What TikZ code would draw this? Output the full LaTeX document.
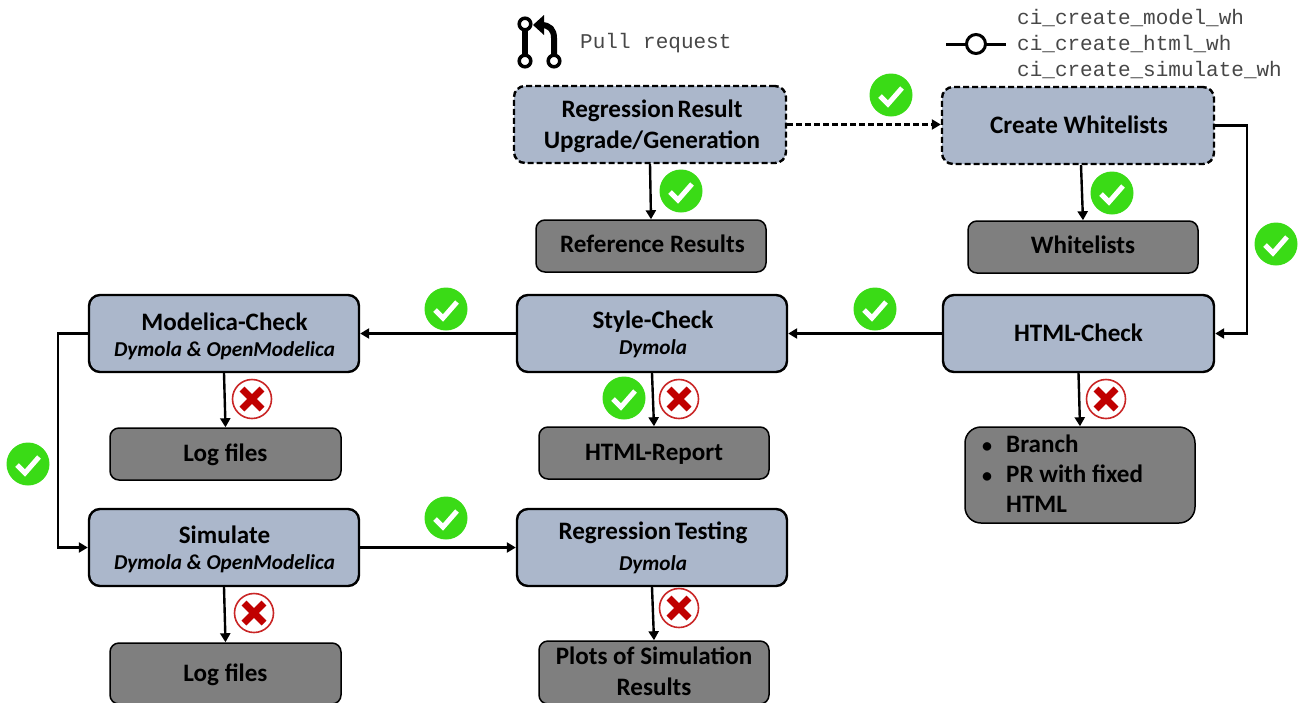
\documentclass[tikz,border=0pt]{standalone}
\usepackage{fontspec}
\setmainfont{Carlito}
\newfontfamily\monof{Liberation Mono}
\usetikzlibrary{arrows.meta}
\definecolor{boxblue}{HTML}{ABB7CB}
\definecolor{boxgray}{HTML}{7F7F7F}
\definecolor{okgreen}{HTML}{3ADB16}
\definecolor{failred}{HTML}{C00000}
\newcommand{\bigfs}{\fontsize{25.1}{31}\selectfont\bfseries}
\newcommand{\subfs}{\fontsize{21.2}{28}\selectfont\bfseries\itshape}
\newcommand{\bul}{\makebox[24pt][l]{\fontsize{20}{20}\selectfont •}}
\begin{document}
\begin{tikzpicture}[x=1pt,y=-1pt,
  base/.style={rounded corners=11pt,draw=black,line width=2.4pt,inner sep=0pt,anchor=center},
  blue/.style={base,fill=boxblue},
  dashbox/.style={dash pattern=on 6pt off 3pt},
  gray/.style={base,fill=boxgray,line width=1.5pt,rounded corners=9pt},
  boxtext/.style={align=center,font=\bigfs,inner sep=0pt,anchor=center},
  flow/.style={line width=2.4pt,-{Triangle[length=9pt,width=10pt]}},
  monot/.style={font=\monof\fontsize{21}{26}\selectfont,text=black!72,anchor=west,inner sep=0pt},
  okc/.style={circle,fill=okgreen,minimum size=43pt,inner sep=0pt},
  failc/.style={circle,fill=white,draw=failred!85,line width=1.6pt,minimum size=39pt,inner sep=0pt},
  okmark/.pic={\draw[white,line width=5pt] (-11,1) -- (-3,9) -- (11,-7);},
  failmark/.pic={\draw[failred,line width=7pt] (-10,-10) -- (10,10) (-10,10) -- (10,-10);},
]
\useasboundingbox (0,0) rectangle (1301,702);
% style, name, text, x0, x1, y0, y1, text x offset, text y offset
\newcommand{\boxn}[9]{\node[#1,minimum width=#5pt-#4pt,minimum height=#7pt-#6pt] (#2) at ({(#4+#5)/2},{(#6+#7)/2}) {};
  \node[boxtext] (#2t) at ({(#4+#5)/2+#8},{(#6+#7)/2+#9}) {#3};}

% boxes
\boxn{blue,dashbox}{rr}{Regression\hspace{3.5pt}Result\\Upgrade/Generation}{514}{786}{86}{163}{2}{2}
\boxn{blue,dashbox}{cw}{Create Whitelists}{942}{1214}{87}{164}{1}{-1}
\boxn{gray}{ref}{Reference Results}{536}{766}{220}{272}{1.5}{-2}
\boxn{gray}{wl}{Whitelists}{968}{1198}{221}{273}{0}{-2}
\boxn{blue}{mc}{Modelica-Check\\[-5pt]{\subfs Dymola \& OpenModelica}}{89}{359}{295}{372}{0.5}{3}
\boxn{blue}{sc}{Style-Check\\[-5pt]{\subfs Dymola}}{517}{787}{295}{372}{1}{1}
\boxn{blue}{hc}{HTML-Check}{943}{1214}{295}{372}{0}{-1}
\boxn{gray}{lf}{Log files}{110}{341}{428}{480}{0}{0.5}
\boxn{gray}{hr}{HTML-Report}{539}{769}{427}{479}{0}{1}
\boxn{gray,rounded corners=16pt}{br}{}{965}{1195}{427}{523}{0}{0}
\node[font=\bigfs,align=left,inner sep=0pt,anchor=north west] (brt) at (982,435) {\bul Branch\\[-1pt]\bul PR with fixed\\[-1pt]\makebox[24pt][l]{}HTML};
\boxn{blue}{si}{Simulate\\[-5pt]{\subfs Dymola \& OpenModelica}}{89}{359}{509}{586}{0.5}{1.5}
\boxn{blue}{rt}{Regression\hspace{3.5pt}Testing\\{\subfs Dymola}}{517}{787}{509}{586}{1}{0}
\boxn{gray}{lf2}{Log files}{110}{341}{643}{704}{0}{1.5}
\boxn{gray}{pl}{Plots of Simulation\\Results}{539}{769}{641}{704}{0}{-1}

% connectors
\draw[flow,dashbox] (rr.east) -- (rr.east -| cw.west);
\draw[flow] (rr.south) -- (ref.north);
\draw[flow] ([xshift=3pt]cw.south) -- (wl.north);
\draw[flow] (cw.east) -- ++(32,0) |- (hc.east);
\draw[flow] (hc.west) -- (sc.east);
\draw[flow] (sc.west) -- (mc.east);
\draw[flow] (mc.west) -- ++(-30,0) |- (si.west);
\draw[flow] (si.east) -- (rt.west);
\draw[flow] (mc.south) -- (lf.north);
\draw[flow] (sc.south) -- (hr.north);
\draw[flow] (hc.south) -- (br.north);
\draw[flow] (si.south) -- (lf2.north);
\draw[flow] (rt.south) -- (pl.north);

% status icons
\foreach \n/\x/\y in {a/891/95,b/681/191,c/1112/193,d/1276/244,e/446/309,f/875/309,g/624/398,h/28/464,i/446/518}{
  \node[okc] (ok\n) at (\x,\y) {};
  \pic at (ok\n) {okmark};
}
\foreach \n/\x/\y in {a/252/399,b/679/399,c/1106/399,d/254/613,e/679/608}{
  \node[failc] (fail\n) at (\x,\y) {};
  \pic at (fail\n) {failmark};
}

% pull request icon
\draw[line width=6pt] (525,30) -- (525,55);
\draw[line width=6pt] (554,54) -- (554,38) .. controls (554,30) and (550,25) .. (541,25);
\fill (533,25) -- (544,15) -- (544,35) -- cycle;
\draw[line width=3.5pt,fill=white] (525,24) circle[radius=5.8pt] (525,61) circle[radius=5.8pt] (554,61) circle[radius=5.8pt];
\node[monot] (pr) at (580,43) {Pull request};

% whitelist icon
\draw[line width=3pt] (946,44) -- (1006,44);
\draw[line width=3pt,fill=white] (976,44) circle[radius=9.5pt];
\node[monot] (w1) at (1017,18.5) {ci\_create\_model\_wh};
\node[monot] (w2) at (1017,44.5) {ci\_create\_html\_wh};
\node[monot] (w3) at (1017,70.5) {ci\_create\_simulate\_wh};
\end{tikzpicture}
\end{document}
